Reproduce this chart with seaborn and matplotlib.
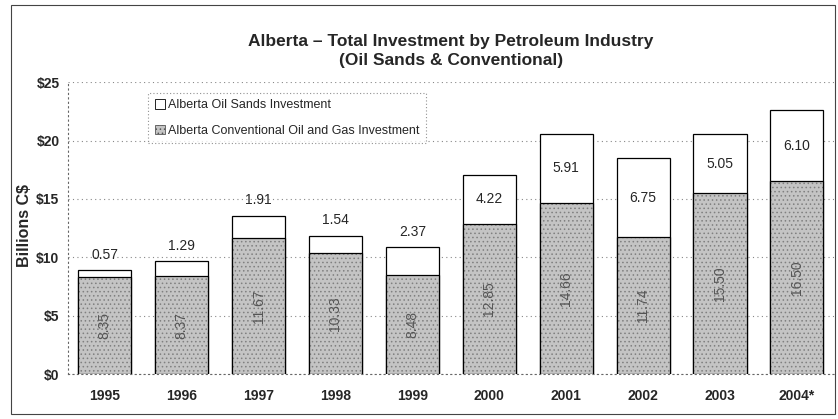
import pandas as pd
import numpy as np
import matplotlib.pyplot as plt
import seaborn as sns
from matplotlib.patches import Patch, Rectangle

# du lieu doc tu bieu do
years = ["1995", "1996", "1997", "1998", "1999", "2000", "2001", "2002", "2003", "2004*"]
conventional = [8.35, 8.37, 11.67, 10.33, 8.48, 12.85, 14.66, 11.74, 15.50, 16.50]
oil_sands = [0.57, 1.29, 1.91, 1.54, 2.37, 4.22, 5.91, 6.75, 5.05, 6.10]
y_ticks = [0, 5, 10, 15, 20, 25]

sns.set_style("white")
plt.rcParams['font.family'] = ['Liberation Sans', 'DejaVu Sans']
plt.rcParams['hatch.linewidth'] = 0.6

df = pd.DataFrame({"year": years, "conv": conventional, "sands": oil_sands})
df["total"] = df["conv"] + df["sands"]

fig = plt.figure(figsize=(8.38, 4.19), dpi=100)
ax = fig.add_axes([0.081, 0.107, 0.914, 0.697])

# tong (phan trang o tren)
sns.barplot(data=df, x="year", y="total", color="white", edgecolor="black",
            linewidth=0.9, width=0.69, saturation=1, ax=ax)
# phan conventional (xam, lam cham)
sns.barplot(data=df, x="year", y="conv", color="#c4c4c4", edgecolor="#808080",
            linewidth=0, width=0.69, saturation=1, hatch="....", ax=ax)
# vien den
sns.barplot(data=df, x="year", y="conv", fill=False, edgecolor="black",
            linewidth=0.9, width=0.69, ax=ax)

# nhan gia tri
for i, row in df.iterrows():
    ax.text(i, row["conv"] / 2, f"{row['conv']:.2f}", rotation=90, ha="center", va="center",
            fontsize=10, color="#555555")
    if row["sands"] > 3:
        ax.text(i, row["conv"] + row["sands"] / 2, f"{row['sands']:.2f}", ha="center",
                va="center", fontsize=10)
    else:
        ax.annotate(f"{row['sands']:.2f}", (i, row["total"]), xytext=(0, 6),
                    textcoords="offset points", ha="center", va="bottom", fontsize=10)

ax.set_ylim(0, 25)
ax.set_xlim(-0.48, 9.48)
ax.set_yticks(y_ticks)
ax.set_yticklabels([f"${v}" for v in y_ticks], fontweight="bold", fontsize=10)
ax.set_xticks(range(len(years)))
ax.set_xticklabels(years, fontweight="bold", fontsize=10)
ax.tick_params(length=0, pad=6)
ax.tick_params(axis="x", pad=11)
ax.yaxis.grid(True, linestyle=(0, (1, 3)), color="#888888", linewidth=0.8)
ax.set_axisbelow(True)
for s in ["top", "right"]:
    ax.spines[s].set_visible(False)
for s in ["left", "bottom"]:
    ax.spines[s].set_linestyle((0, (1, 3)))
    ax.spines[s].set_color("#666666")
    ax.spines[s].set_linewidth(0.8)

ax.set_xlabel("")
ax.set_ylabel("Billions C$", fontweight="bold", fontsize=11.5)
ax.yaxis.set_label_coords(-0.047, 0.51)

ax.set_title("Alberta \u2013 Total Investment by Petroleum Industry\n(Oil Sands & Conventional)",
             fontweight="bold", fontsize=12.5, linespacing=1.35, pad=12)

handles = [Patch(facecolor="white", edgecolor="black", linewidth=0.6),
           Patch(facecolor="#c4c4c4", edgecolor="#555555", linewidth=0.6, hatch="....")]
leg = ax.legend(handles, ["Alberta Oil Sands Investment", "Alberta Conventional Oil and Gas Investment"],
                loc="upper left", bbox_to_anchor=(0.097, 0.985), fontsize=9, fancybox=False,
                handlelength=0.8, handleheight=0.8, handletextpad=0.3, labelspacing=1.1,
                borderpad=0.5)
leg.get_frame().set_linestyle((0, (1, 2)))
leg.get_frame().set_edgecolor("#777777")
leg.get_frame().set_linewidth(0.8)

# khung ngoai
fig.patches.append(Rectangle((0.013, 0.012), 0.984, 0.976, transform=fig.transFigure,
                             fill=False, edgecolor="#444444", linewidth=0.8))

plt.savefig("out.png", dpi=100)
plt.close(fig)
